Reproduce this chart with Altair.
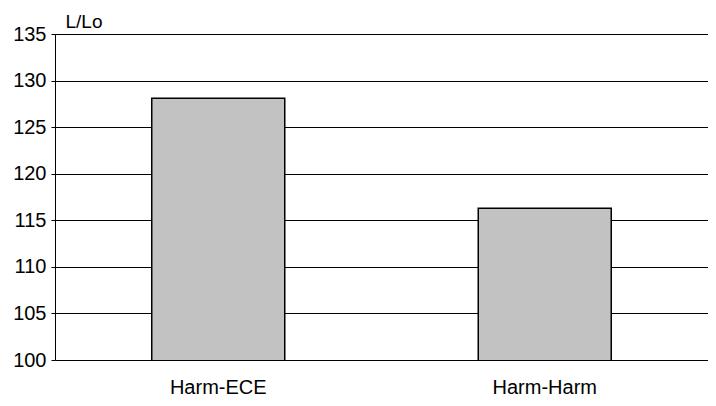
import altair as alt
import pandas as pd

categories = ["Harm-ECE", "Harm-Harm"]
values = [128.1, 116.3]
y_ticks = [100, 105, 110, 115, 120, 125, 130, 135]

df = pd.DataFrame({"cat": categories, "val": values})

FONT = "Liberation Sans"

base = alt.Chart(df)

bars = base.mark_bar(
    color="#c2c2c2", stroke="black", strokeWidth=1.5, size=133, clip=True
).encode(
    x=alt.X("cat:N", sort=categories,
            scale=alt.Scale(paddingInner=0.6, paddingOuter=0.3),
            axis=alt.Axis(title=None, labelAngle=0, labelFontSize=20,
                          labelFont=FONT, labelColor="black", labelPadding=17,
                          ticks=False, domain=False)),
    y=alt.Y("val:Q", scale=alt.Scale(domain=[100, 135], nice=False, zero=False),
            axis=alt.Axis(values=y_ticks, title="L/Lo", titleAngle=0,
                          titleAlign="left", titleBaseline="alphabetic",
                          titleX=10, titleY=-7,
                          titleFont=FONT, titleFontSize=19, titleFontWeight="normal",
                          titleColor="black",
                          labelFont=FONT, labelFontSize=20, labelColor="black",
                          labelPadding=5, tickSize=4, tickColor="black",
                          domainColor="black", gridColor="black", gridWidth=1,
                          grid=True)),
)

chart = bars.properties(
    width=653, height=326,
    autosize=alt.AutoSizeParams(type="none"),
    padding={"left": 47, "top": 26, "right": 0, "bottom": 38},
).configure_view(stroke="black", strokeWidth=1.5).configure(background="white")

chart.save("out.html", embed_options={"renderer": "svg", "actions": False})
